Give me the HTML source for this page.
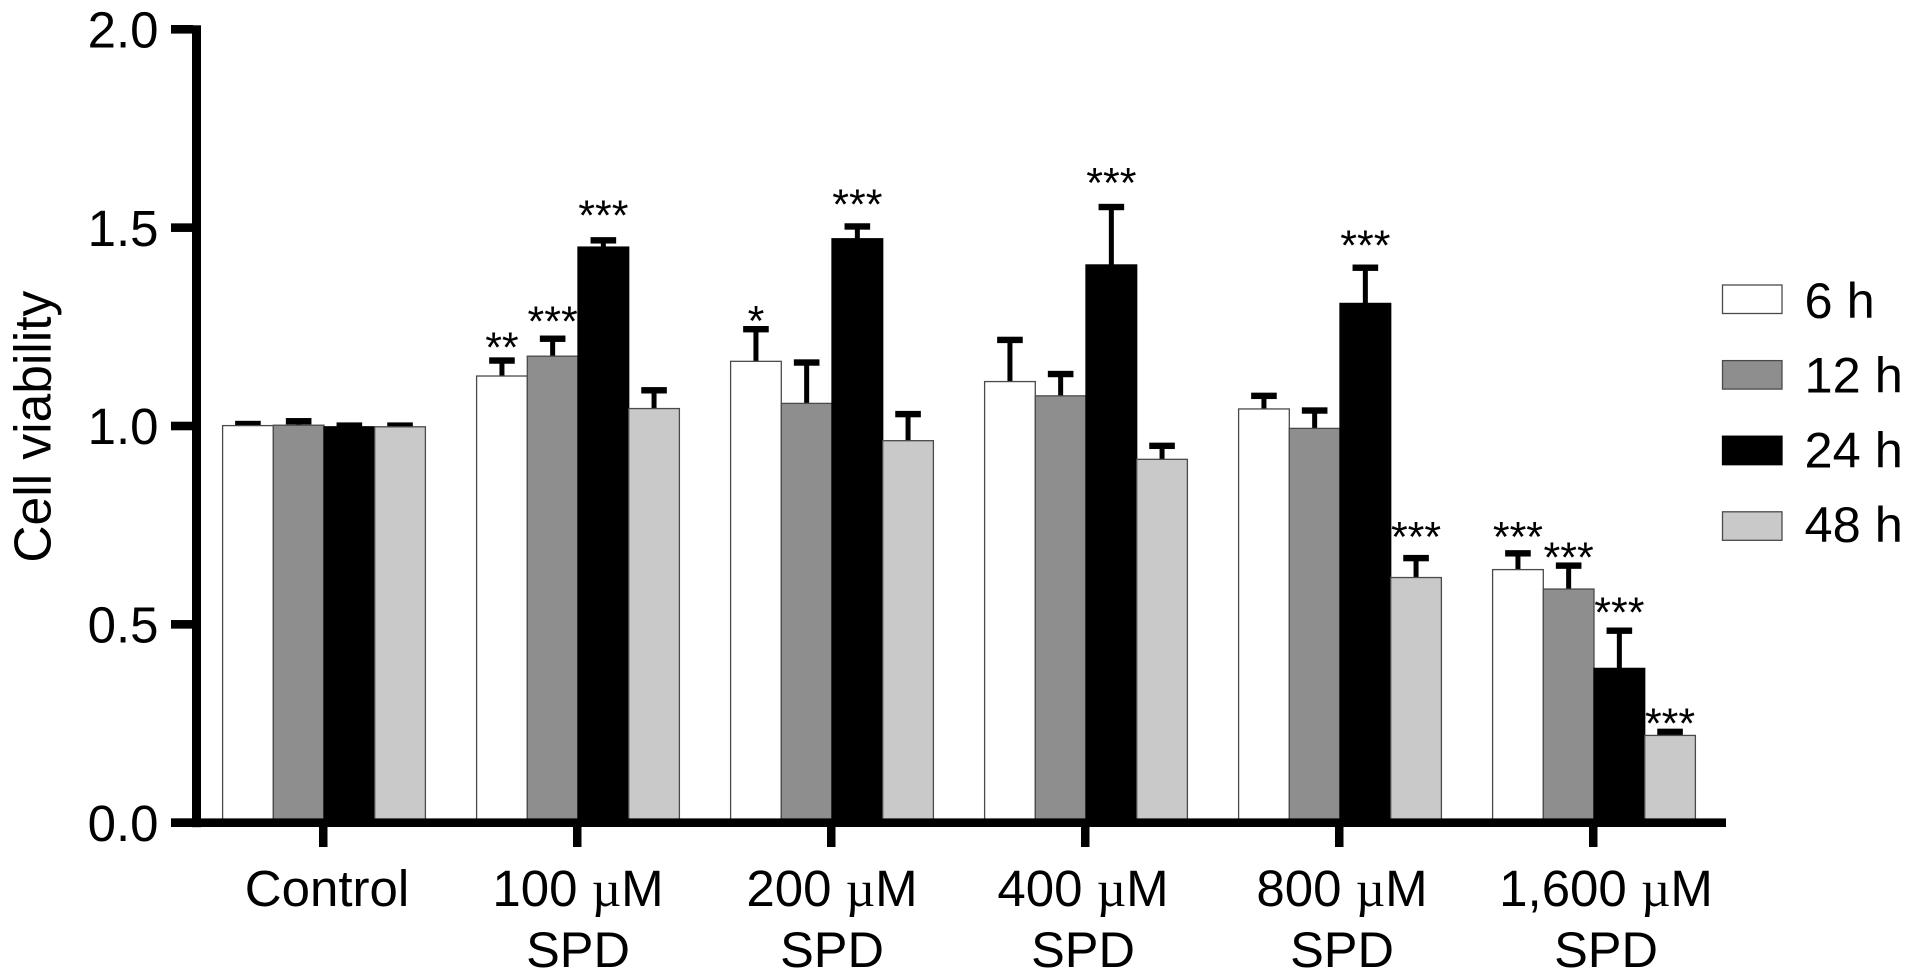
<!DOCTYPE html>
<html lang="en">
<head>
<meta charset="utf-8">
<title>Cell viability bar chart</title>
<style>
  html, body { margin: 0; padding: 0; background: #fff; }
  svg { display: block; }
  text { font-family: "Liberation Sans", Arial, sans-serif; fill: #000; }
</style>
</head>
<body>
<svg id="chart" xmlns="http://www.w3.org/2000/svg" width="1913" height="980" viewBox="0 0 1913 980"></svg>
<script>
const categories = ["Control", "100 µM", "200 µM", "400 µM", "800 µM", "1,600 µM"];
const categoryLine2 = ["", "SPD", "SPD", "SPD", "SPD", "SPD"];
const seriesNames = ["6 h", "12 h", "24 h", "48 h"];
const yTicks = [0, 0.5, 1, 1.5, 2];

const mean6h  = [1.001, 1.126, 1.163, 1.112, 1.043, 0.638];
const mean12h = [1.002, 1.176, 1.057, 1.076, 0.994, 0.589];
const mean24h = [0.998, 1.451, 1.472, 1.406, 1.309, 0.389];
const mean48h = [0.998, 1.044, 0.963, 0.916, 0.618, 0.220];

const err6h  = [0.004, 0.039, 0.081, 0.105, 0.033, 0.041];
const err12h = [0.010, 0.044, 0.103, 0.055, 0.045, 0.059];
const err24h = [0.003, 0.017, 0.031, 0.146, 0.090, 0.095];
const err48h = [0.003, 0.046, 0.067, 0.034, 0.049, 0.009];

const sig6h  = ["", "**", "*", "", "", "***"];
const sig12h = ["", "***", "", "", "", "***"];
const sig24h = ["", "***", "***", "***", "***", "***"];
const sig48h = ["", "", "", "", "***", "***"];

/* height of each significance mark, in y-axis units */
const sigLevel6h  = [0, 1.212, 1.278, 0, 0, 0.734];
const sigLevel12h = [0, 1.277, 0, 0, 0, 0.683];
const sigLevel24h = [0, 1.545, 1.572, 1.627, 1.469, 0.544];
const sigLevel48h = [0, 0, 0, 0, 0.734, 0.264];

const means = [mean6h, mean12h, mean24h, mean48h];
const errs = [err6h, err12h, err24h, err48h];
const sigs = [sig6h, sig12h, sig24h, sig48h];
const sigLevels = [sigLevel6h, sigLevel12h, sigLevel24h, sigLevel48h];
const fills = ["#ffffff", "#8e8e8e", "#000000", "#c9c9c9"];
const seriesKeys = ["6h", "12h", "24h", "48h"];

const NS = "http://www.w3.org/2000/svg";
const svg = document.getElementById("chart");

function make(tag, attrs, parent) {
  const el = document.createElementNS(NS, tag);
  for (const k in attrs) el.setAttribute(k, attrs[k]);
  (parent || svg).appendChild(el);
  return el;
}

/* axis functions */
const yZero = 822.7, yPerUnit = 396.7;
function yScale(v) { return yZero - yPerUnit * v; }
const groupStart = 323, groupStep = 254, barW = 50.7;
function groupX(i) { return groupStart + groupStep * i; }
function barLeft(i, s) { return groupX(i) + 1 + (s - 2) * barW; }
function labelX(i) { return groupX(i) + (i === 5 ? 13 : i === 4 ? 3 : i === 3 ? -2 : i === 0 ? 4 : 1); }

/* error bars, then bars */
seriesNames.forEach(function (name, s) {
  categories.forEach(function (cat, i) {
    const cx = barLeft(i, s) + barW / 2;
    const top = yScale(means[s][i] + errs[s][i]);
    const g = make("g", {});
    
    
    make("rect", { x: cx - 2.5, y: top, width: 5, height: Math.max(0, yScale(means[s][i]) - top), fill: "#000" }, g);
    make("rect", { x: cx - 12.8, y: top - 3.2, width: 25.6, height: 6.4, fill: "#000" }, g);
  });
});

seriesNames.forEach(function (name, s) {
  categories.forEach(function (cat, i) {
    const topY = yScale(means[s][i]);
    const bar = make("rect", {
      x: barLeft(i, s), y: topY, width: barW, height: yZero - topY,
      fill: fills[s], stroke: s === 2 ? "#000" : "#4a4a4a", "stroke-width": 1.3
    });
    
    
  });
});

/* significance marks */
seriesNames.forEach(function (name, s) {
  categories.forEach(function (cat, i) {
    if (!sigs[s][i]) return;
    const t = make("text", {
      x: barLeft(i, s) + barW / 2,
      y: yScale(sigLevels[s][i]) + 20,
      "text-anchor": "middle", "font-size": 43
    });
    
    
    t.textContent = sigs[s][i];
  });
});

/* y axis */
const yAxis = make("rect", { x: 192, y: yScale(2) - 4, width: 9, height: yZero - yScale(2) + 8.5, fill: "#000" });



yTicks.forEach(function (v) {
  const tick = make("rect", { x: 171, y: yScale(v) - 4.3, width: 22, height: 8.6, fill: "#000" });
  
  
  const lab = make("text", { x: 158.5, y: yScale(v) + 18.2, "text-anchor": "end", "font-size": 51 });
  
  
  lab.textContent = v.toFixed(1);
});

/* x axis */
const xAxis = make("rect", { x: 171, y: yZero - 4.3, width: 1555, height: 8.6, fill: "#000" });



categories.forEach(function (cat, i) {
  const tick = make("rect", { x: groupX(i) - 4, y: yZero, width: 8.5, height: 24.3, fill: "#000" });
  
  

  const lab = make("text", { x: labelX(i), y: 906, "text-anchor": "middle", "font-size": 51 });
  
  
  const micro = cat.indexOf("µ");
  if (micro >= 0) {
    lab.appendChild(document.createTextNode(cat.slice(0, micro)));
    const mu = make("tspan", { "font-family": "Liberation Serif, serif" }, lab);
    mu.textContent = "µ";
    lab.appendChild(document.createTextNode(cat.slice(micro + 1)));
  } else {
    lab.textContent = cat;
  }

  if (categoryLine2[i]) {
    const lab2 = make("text", { x: labelX(i), y: 967, "text-anchor": "middle", "font-size": 50.5 });
    
    
    lab2.textContent = categoryLine2[i];
  }
});

/* y axis title */
const yTitle = make("text", { transform: "translate(50.5 426.7) rotate(-90)", "text-anchor": "middle", "font-size": 51.5 });


yTitle.textContent = "Cell viability";

/* legend */
const legendTop = 285, legendStep = 75.6, legendTextTop = 318, legendTextStep = 74.7;
seriesNames.forEach(function (name, s) {
  const y = legendTop + legendStep * s;
  const g = make("g", {});
  
  
  make("rect", { x: 1722.5, y: y, width: 59.5, height: 28.5, fill: fills[s], stroke: s === 2 ? "#000" : "#4a4a4a", "stroke-width": 1.3 }, g);
  const t = make("text", { x: 1804.5, y: legendTextTop + legendTextStep * s, "font-size": 50.5 }, g);
  t.textContent = name;
});
</script>
</body>
</html>
